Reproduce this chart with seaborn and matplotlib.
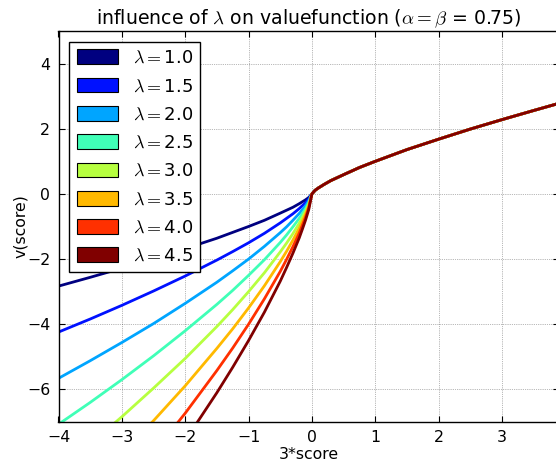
import numpy as np
import pandas as pd
import matplotlib
matplotlib.use("Agg")
import matplotlib.pyplot as plt
from matplotlib.patches import Patch
import seaborn as sns

# ---- data ----
lambdas = [1.0, 1.5, 2.0, 2.5, 3.0, 3.5, 4.0, 4.5]
legend_labels = [r"$\lambda=$" + f"{l:.1f}" for l in lambdas]

x_loss = [-4.0, -3.5, -3.0, -2.5, -2.0, -1.5, -1.25, -1.0, -0.75, -0.5,
          -0.4, -0.3, -0.2, -0.15, -0.1, -0.05, 0.0]
x_gain = [0.05, 0.1, 0.15, 0.2, 0.3, 0.4, 0.5, 0.75, 1.0, 1.25, 1.5,
          2.0, 2.5, 3.0, 3.5, 3.9]
v_gain = [0.11, 0.18, 0.24, 0.30, 0.41, 0.50, 0.59, 0.81, 1.00, 1.18, 1.36,
          1.68, 1.99, 2.28, 2.56, 2.78]

v_loss_10 = [-2.83, -2.56, -2.28, -1.99, -1.68, -1.36, -1.18, -1.00, -0.81, -0.59,
             -0.50, -0.41, -0.30, -0.24, -0.18, -0.11, 0.0]
v_loss_15 = [-4.24, -3.84, -3.42, -2.98, -2.52, -2.03, -1.77, -1.50, -1.21, -0.89,
             -0.75, -0.61, -0.45, -0.36, -0.27, -0.16, 0.0]
v_loss_20 = [-5.66, -5.12, -4.56, -3.98, -3.36, -2.71, -2.36, -2.00, -1.61, -1.19,
             -1.01, -0.81, -0.60, -0.48, -0.36, -0.21, 0.0]
v_loss_25 = [-7.07, -6.40, -5.70, -4.97, -4.20, -3.39, -2.96, -2.50, -2.02, -1.49,
             -1.26, -1.01, -0.75, -0.60, -0.45, -0.27, 0.0]
v_loss_30 = [-8.49, -7.68, -6.84, -5.96, -5.05, -4.07, -3.55, -3.00, -2.42, -1.78,
             -1.51, -1.22, -0.90, -0.72, -0.53, -0.32, 0.0]
v_loss_35 = [-9.90, -8.96, -7.98, -6.96, -5.89, -4.74, -4.14, -3.50, -2.82, -2.08,
             -1.76, -1.42, -1.05, -0.84, -0.62, -0.37, 0.0]
v_loss_40 = [-11.31, -10.24, -9.12, -7.95, -6.73, -5.42, -4.73, -4.00, -3.22, -2.38,
             -2.01, -1.62, -1.20, -0.96, -0.71, -0.42, 0.0]
v_loss_45 = [-12.73, -11.52, -10.26, -8.94, -7.57, -6.10, -5.32, -4.50, -3.63, -2.68,
             -2.26, -1.82, -1.35, -1.08, -0.80, -0.48, 0.0]

v_losses = [v_loss_10, v_loss_15, v_loss_20, v_loss_25,
            v_loss_30, v_loss_35, v_loss_40, v_loss_45]

xticks = [-4, -3, -2, -1, 0, 1, 2, 3]
yticks = [-6, -4, -2, 0, 2, 4]

# ---- long-form table ----
rows = []
for lab, vl in zip(legend_labels, v_losses):
    for x, y in zip(x_loss + x_gain, vl + v_gain):
        rows.append({"x": x, "v": y, "lam": lab})
df = pd.DataFrame(rows)

# ---- style (classic matplotlib look) ----
plt.rcParams.update({
    "font.family": "DejaVu Sans",
    "mathtext.fontset": "cm",
    "xtick.direction": "in",
    "ytick.direction": "in",
    "xtick.top": True,
    "ytick.right": True,
    "xtick.major.pad": 6,
    "ytick.major.pad": 6,
    "axes.linewidth": 1.0,
    "axes.edgecolor": "black",
})

colors = [plt.cm.jet(t) for t in np.linspace(0, 1, len(lambdas))]

fig = plt.figure(figsize=(5.56, 4.63), dpi=100)
ax = fig.add_axes([58.5 / 556, (463 - 422) / 463, (559 - 58.5) / 556, (422 - 31) / 463])

sns.lineplot(data=df, x="x", y="v", hue="lam", hue_order=legend_labels,
             palette=colors, estimator=None, sort=False, linewidth=2,
             legend=False, ax=ax)

ax.set_xlim(-4, 3.9)
ax.set_ylim(-7, 5)
ax.set_xticks(xticks)
ax.set_yticks(yticks)
ax.tick_params(labelsize=11.3, length=4, width=0.8)
ax.grid(True, color="black", linestyle=":", linewidth=0.5, alpha=0.55)

ax.set_xlabel("3*score", fontsize=11.3, labelpad=1)
ax.set_ylabel("v(score)", fontsize=11.3, labelpad=-1)
ax.set_title(r"influence of $\lambda$ on valuefunction ($\alpha=\beta$ = 0.75)",
             fontsize=13.6, pad=5)

handles = [Patch(facecolor=c, edgecolor="black", linewidth=0.8) for c in colors]
leg = ax.legend(handles, legend_labels, loc="upper left", fontsize=13,
                fancybox=False, framealpha=1, edgecolor="black",
                handlelength=2.3, handleheight=0.88, labelspacing=0.57,
                borderpad=0.4, borderaxespad=0.6, handletextpad=0.8)
leg.get_frame().set_linewidth(1.0)

fig.savefig("out.png", dpi=100, facecolor="white")
